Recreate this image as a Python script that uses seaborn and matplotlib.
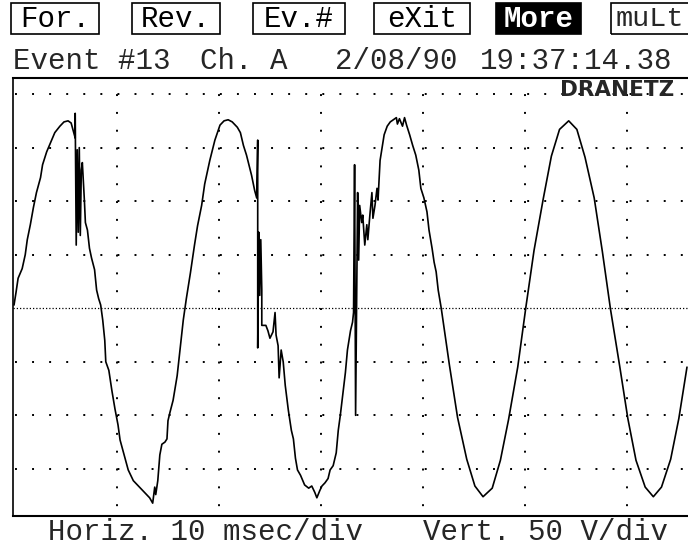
import matplotlib
matplotlib.use("Agg")
import matplotlib.pyplot as plt
import pandas as pd
import seaborn as sns
from matplotlib.patches import Rectangle

# --- data (time in ms, voltage in V) ---
time_ms = [
    -0.1, 0.1, 0.3, 0.7, 1.0, 1.2, 1.5, 1.8, 2.1, 2.5, 2.7, 3.1, 3.5, 3.9, 4.4, 4.8,
    5.2, 5.5, 5.7, 5.9, 5.9, 6.0, 6.1, 6.2, 6.3, 6.4, 6.5, 6.6, 6.8, 6.9, 7.1, 7.3,
    7.5, 7.8, 8.0, 8.2, 8.4, 8.6, 8.8, 8.9, 9.2, 9.5, 9.8, 10.1, 10.3, 10.7, 11.1,
    11.6, 12.3, 12.9, 13.2, 13.5, 13.7, 13.8, 14.0, 14.2, 14.4, 14.7, 14.9, 15.0,
    15.2, 15.5, 15.9, 16.2, 16.5, 16.8, 17.2, 17.6, 17.9, 18.3, 18.6, 19.1, 19.6,
    20.1, 20.5, 20.9, 21.3, 21.8, 22.1, 22.4, 22.7, 23.2, 23.5, 23.7, 23.8, 23.8,
    23.9, 24.0, 24.1, 24.2, 24.2, 24.6, 24.8, 25.0, 25.3, 25.5, 25.6, 25.8, 25.9,
    26.1, 26.3, 26.5, 26.8, 27.1, 27.3, 27.5, 27.7, 28.0, 28.4, 28.8, 29.1, 29.4,
    29.6, 29.9, 30.1, 30.4, 30.7, 30.9, 31.2, 31.5, 31.7, 31.9, 32.1, 32.4, 32.6,
    32.9, 33.1, 33.2, 33.3, 33.4, 33.5, 33.6, 33.7, 33.8, 34.0, 34.1, 34.3, 34.5,
    34.6, 34.8, 35.0, 35.1, 35.3, 35.5, 35.6, 35.8, 36.0, 36.2, 36.5, 36.8, 37.1,
    37.4, 37.5, 37.7, 38.0, 38.2, 38.4, 38.7, 39.0, 39.3, 39.6, 39.8, 40.1, 40.4,
    40.6, 40.9, 41.1, 41.3, 41.5,
    41.8, 42.6, 43.4, 44.3, 45.1, 45.9, 46.8, 47.6, 48.4, 49.3, 50.1, 50.9, 51.8,
    52.6, 53.4, 54.3, 55.1, 55.9, 56.8, 57.6, 58.4, 59.3, 60.1, 60.9, 61.8, 62.6,
    63.4, 64.3, 65.1, 65.9,
]
volts = [
    3, 15, 28, 37, 50, 64, 78, 94, 108, 122, 134, 146, 155, 164, 170, 174,
    175, 173, 166, 159, 182, 59, 148, 71, 150, 68, 129, 136, 101, 80, 73, 56,
    47, 36, 17, 9, 3, -11, -30, -50, -58, -77, -94, -109, -123, -137, -151,
    -161, -168, -174, -177, -182, -167, -174, -161, -137, -127, -125, -122, -105,
    -97, -86, -63, -37, -11, 9, 33, 59, 77, 96, 116, 138, 157,
    171, 175, 176, 174, 169, 164, 152, 143, 124, 110, 103, 157, -37,
    71, 12, 64, 17, -16, -16, -21, -28, -22, -4, -25, -35, -65,
    -39, -50, -72, -95, -114, -122, -140, -151, -156, -165, -168, -166, -172,
    -177, -170, -166, -163, -159, -151, -147, -135, -114, -100, -84, -60, -39,
    -21, -13, -4, 134, -100, 7, 108, 45, 96, 80, 87, 59, 78,
    64, 87, 108, 84, 96, 112, 101, 138, 150, 162, 170, 174, 176,
    178, 172, 177, 170, 178, 171, 162, 152, 143, 129, 112, 103, 90,
    73, 56, 43, 34, 17,
    0, -53, -102, -141, -166, -176, -168, -142, -104, -55, 1, 54, 102,
    142, 167, 175, 167, 141, 103, 53, -1, -54, -103, -142, -167, -176,
    -167, -141, -103, -55,
]

buttons = ["For.", "Rev.", "Ev.#", "eXit", "More", "muLt"]
event_info = ["Event #13", "Ch. A", "2/08/90", "19:37:14.38"]
scale_info = ["Horiz. 10 msec/div", "Vert. 50 V/div"]
brand = "DRANETZ"

time_grid = [10, 20, 30, 40, 50, 60]
volt_grid = [-150, -100, -50, 50, 100, 150, 200]

sns.set_style("white")
plt.rcParams['font.family'] = ['Liberation Mono', 'DejaVu Sans Mono']

W, H = 688, 546
fig = plt.figure(figsize=(W / 100, H / 100), dpi=100)
ax = fig.add_axes([13 / W, 30 / H, 675 / W, 438 / H])

df = pd.DataFrame({"t": time_ms, "v": volts})
sns.lineplot(data=df, x="t", y="v", ax=ax, color="black", lw=1.2,
             estimator=None, sort=False)

ax.set_xlim(-0.2, 66.0)
ax.set_ylim(-194, 215)
ax.set_xticks(time_grid)
ax.set_yticks(volt_grid)
ax.tick_params(length=0, labelbottom=False, labelleft=False)
ax.set_xlabel("")
ax.set_ylabel("")

# dotted graticule
ax.xaxis.grid(True, color="black", lw=1.4, linestyle=(4.1, (1, 8.17)))
ax.yaxis.grid(True, color="black", lw=1.4, linestyle=(7.75, (1, 7.78)))
ax.axhline(0, color="black", lw=0.9, linestyle=(0, (1, 1.6)))

for side in ["top", "bottom", "left"]:
    ax.spines[side].set_color("black")
ax.spines["top"].set_linewidth(1.5)
ax.spines["bottom"].set_linewidth(1.5)
ax.spines["left"].set_linewidth(1.2)
ax.spines["right"].set_visible(False)

fig.text(560 / W, 1 - 90 / H, brand, family="DejaVu Sans", fontweight="bold",
         fontsize=15.5, va="center", ha="left")

# softkey row
box_left = [11, 132, 253, 374, 496, 611]
box_right = [99, 220, 345, 470, 581, 720]
for lab, x0, x1 in zip(buttons, box_left, box_right):
    inverted = lab == "More"
    fig.patches.append(Rectangle((x0 / W, 1 - 34 / H), (x1 - x0) / W, 31 / H,
                                 transform=fig.transFigure, lw=1.2, ec="black",
                                 fc="black" if inverted else "none",
                                 fill=inverted))
    if lab == "muLt":
        fig.text(616 / W, 1 - 19 / H, lab, fontsize=20.5, va="center", ha="left")
    else:
        fig.text((x0 + x1) / 2 / W, 1 - 19 / H, lab, fontsize=21, va="center",
                 ha="center", color="white" if inverted else "black",
                 fontweight="bold" if inverted else "normal")

for lab, x in zip(event_info, [13, 200, 335, 480]):
    fig.text(x / W, 1 - 61 / H, lab, fontsize=21, va="center", ha="left")

for lab, x in zip(scale_info, [48, 423]):
    fig.text(x / W, 1 - 532 / H, lab, fontsize=21, va="center", ha="left")

fig.savefig("out.png", dpi=100)
